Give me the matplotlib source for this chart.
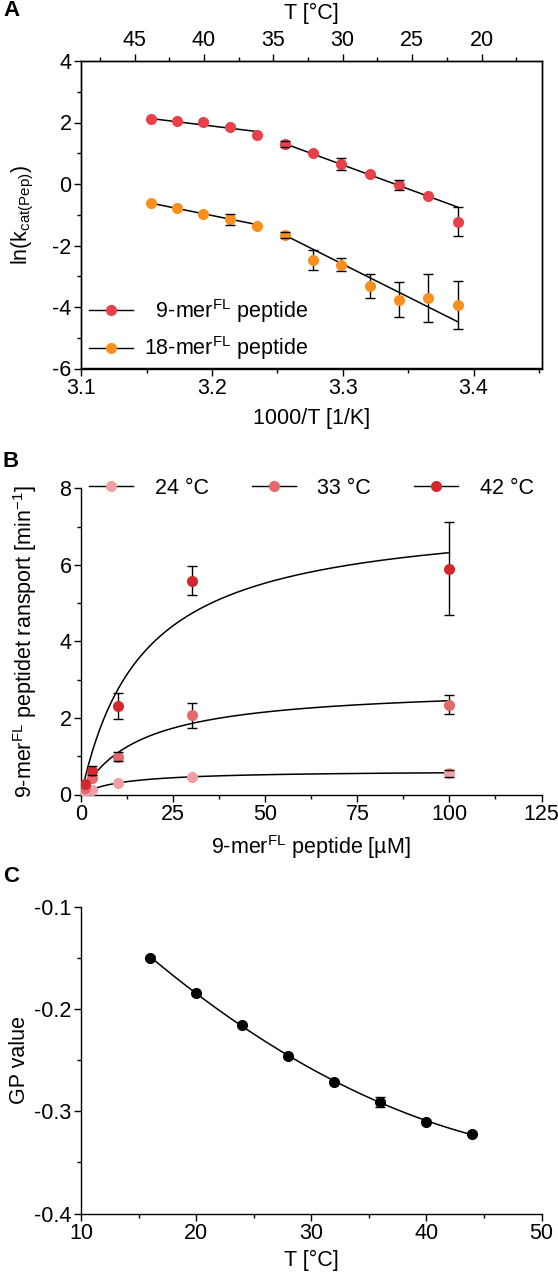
import numpy as np
import matplotlib
matplotlib.use('Agg')
import matplotlib.pyplot as plt
from matplotlib.ticker import MultipleLocator

plt.rcParams['font.family'] = ['Liberation Sans', 'DejaVu Sans']
plt.rcParams['mathtext.fontset'] = 'custom'
plt.rcParams['mathtext.rm'] = 'Liberation Sans'
plt.rcParams['mathtext.it'] = 'Liberation Sans:italic'
plt.rcParams['axes.unicode_minus'] = False
plt.rcParams['font.size'] = 15

# ---- panel A: Arrhenius plot ----
temps_A = [44, 42, 40, 38, 36, 34, 32, 30, 28, 26, 24, 22]          # deg C
lnk_9mer = [2.13, 2.05, 2.03, 1.84, 1.59, 1.31, 1.01, 0.64, 0.32, -0.03, -0.39, -1.22]
err_9mer = [0, 0, 0, 0, 0, 0.10, 0, 0.20, 0, 0.15, 0, 0.47]
lnk_18mer = [-0.63, -0.78, -0.96, -1.15, -1.37, -1.65, -2.47, -2.62, -3.32, -3.76, -3.72, -3.94]
err_18mer = [0, 0, 0, 0.18, 0, 0.10, 0.33, 0.22, 0.38, 0.57, 0.78, 0.77]
# linear fits (intercept, slope) for the high-T segment (44-36) and low-T segment (34-22)
fit_9mer = [(18.557, -5.21), (52.10, -15.6)]
fit_18mer = [(26.496, -8.6), (67.683, -21.3)]
n_high = 5

# ---- panel B: Michaelis-Menten ----
conc_B = [1, 3, 10, 30, 100]                                         # uM
rate_24 = [0.06, 0.13, 0.30, 0.45, 0.55]
err_24 = [0, 0, 0, 0, 0.08]
rate_33 = [0.17, 0.42, 0.99, 2.07, 2.35]
err_33 = [0, 0, 0.12, 0.33, 0.24]
rate_42 = [0.28, 0.62, 2.31, 5.59, 5.90]
err_42 = [0, 0.12, 0.33, 0.38, 1.21]
vmax_B = [0.63, 2.84, 7.38]
km_B = [10.9, 15.9, 16.8]

# ---- panel C: GP value ----
temps_C = [16, 20, 24, 28, 32, 36, 40, 44]
gp = [-0.150, -0.184, -0.216, -0.246, -0.271, -0.291, -0.311, -0.322]
gp_err = [0, 0, 0, 0, 0, 0.005, 0, 0]

red = '#E8414B'
orange = '#F7901E'
col_24 = '#F0A0A2'
col_33 = '#E6686B'
col_42 = '#D4282F'

W, H = 558, 1273
fig = plt.figure(figsize=(W / 100, H / 100), dpi=100)


def style(ax, box=False):
    ax.tick_params(which='major', direction='out', length=5, width=1, labelsize=15.5, pad=2)
    ax.tick_params(which='minor', direction='out', length=3, width=1)
    for s in ax.spines.values():
        s.set_linewidth(1.0)
    if not box:
        ax.spines['top'].set_visible(False)
        ax.spines['right'].set_visible(False)


def errpts(ax, x, y, e, color, ms=8):
    x, y, e = np.asarray(x, float), np.asarray(y, float), np.asarray(e, float)
    m = e > 0
    if m.any():
        eb = ax.errorbar(x[m], y[m], yerr=e[m], fmt='none', ecolor='black', elinewidth=1,
                         capsize=3.5, capthick=1, zorder=2)
        for c in eb[1]:
            c.set_zorder(4)
    ax.plot(x, y, 'o', color=color, ms=ms, mec='none', zorder=3)


# Panel A
axA = fig.add_axes([81.2 / W, 1 - 368.5 / H, 460.3 / W, 307.5 / H])
xA = 1000.0 / (np.array(temps_A) + 273.15)
for ln, er, fits, col in [(lnk_9mer, err_9mer, fit_9mer, red),
                          (lnk_18mer, err_18mer, fit_18mer, orange)]:
    errpts(axA, xA, ln, er, col)
    for (a, b), seg in zip(fits, [slice(0, n_high), slice(n_high, None)]):
        xs = xA[seg]
        xx = np.array([xs.min(), xs.max()])
        axA.plot(xx, a + b * xx, color='black', lw=1.1, zorder=2.5)
axA.plot([], [], '-o', color='black', mfc=red, mec='none', ms=8, lw=1,
         label='  9-mer$^{\\mathrm{FL}}$ peptide')
axA.plot([], [], '-o', color='black', mfc=orange, mec='none', ms=8, lw=1,
         label='18-mer$^{\\mathrm{FL}}$ peptide')
axA.set_xlim(3.1, 3.452)
axA.set_ylim(-6, 4)
axA.xaxis.set_major_locator(MultipleLocator(0.1))
axA.xaxis.set_minor_locator(MultipleLocator(0.05))
axA.yaxis.set_major_locator(MultipleLocator(2))
axA.yaxis.set_minor_locator(MultipleLocator(1))
style(axA, box=True)
axA.set_xlabel('1000/T [1/K]', fontsize=15.5, labelpad=6)
axA.set_ylabel('ln(k$_{\\mathrm{cat(Pep)}}$)', fontsize=15.5, labelpad=12)
axA.legend(loc='lower left', bbox_to_anchor=(0.018, 0.02), frameon=False,
           handlelength=2.0, handletextpad=0.55, labelspacing=0.45,
           borderpad=0, borderaxespad=0, fontsize=15.5)
axT = axA.twiny()
axT.set_xlim(48.84, 15.68)
axT.xaxis.set_major_locator(MultipleLocator(5))
axT.xaxis.set_minor_locator(MultipleLocator(2.5))
style(axT, box=True)
axT.set_xlabel('T [°C]', fontsize=15.5, labelpad=8)

# Panel B
axB = fig.add_axes([81.2 / W, 1 - 794.5 / H, 460.3 / W, 306.2 / H])
xc = np.linspace(0, 100, 300)
for rate, er, col, vm, km, lab in [(rate_24, err_24, col_24, vmax_B[0], km_B[0], '24 °C'),
                                   (rate_33, err_33, col_33, vmax_B[1], km_B[1], '33 °C'),
                                   (rate_42, err_42, col_42, vmax_B[2], km_B[2], '42 °C')]:
    axB.plot(xc, vm * xc / (km + xc), color='black', lw=1.1, zorder=2.5)
    errpts(axB, conc_B, rate, er, col)
    axB.plot([], [], '-o', color='black', mfc=col, mec='none', ms=8, lw=1, label=lab)
axB.set_xlim(0, 125)
axB.set_ylim(0, 8)
axB.xaxis.set_major_locator(MultipleLocator(25))
axB.xaxis.set_minor_locator(MultipleLocator(12.5))
axB.yaxis.set_major_locator(MultipleLocator(2))
axB.yaxis.set_minor_locator(MultipleLocator(1))
style(axB)
axB.set_xlabel('9-mer$^{\\mathrm{FL}}$ peptide [µM]', fontsize=15.5, labelpad=6)
axB.set_ylabel('9-mer$^{\\mathrm{FL}}$ peptidet ransport [min$^{\\mathrm{-1}}$]', fontsize=15.5, labelpad=15)
axB.legend(loc='center left', bbox_to_anchor=(0.017, 1.0), ncol=3, frameon=False,
           handlelength=2.05, handletextpad=1.0, columnspacing=2.0,
           borderpad=0, borderaxespad=0, fontsize=15.5)

# Panel C
axC = fig.add_axes([81.2 / W, 1 - 1213.5 / H, 460.3 / W, 306.8 / H])
pc = np.polyfit(temps_C, gp, 2)
tc = np.linspace(min(temps_C), max(temps_C), 200)
axC.plot(tc, np.polyval(pc, tc), color='black', lw=1.1, zorder=2.5)
errpts(axC, temps_C, gp, gp_err, 'black')
axC.set_xlim(10, 50)
axC.set_ylim(-0.4, -0.1)
axC.xaxis.set_major_locator(MultipleLocator(10))
axC.xaxis.set_minor_locator(MultipleLocator(5))
axC.yaxis.set_major_locator(MultipleLocator(0.1))
axC.yaxis.set_minor_locator(MultipleLocator(0.05))
style(axC)
axC.set_xlabel('T [°C]', fontsize=15.5, labelpad=4)
axC.set_ylabel('GP value', fontsize=15.5, labelpad=3)

for lab, y in [('A', 10), ('B', 461), ('C', 876)]:
    fig.text(11 / W, 1 - y / H, lab, fontsize=16, fontweight='bold', ha='center', va='center')

fig.savefig('out.png', dpi=100)
